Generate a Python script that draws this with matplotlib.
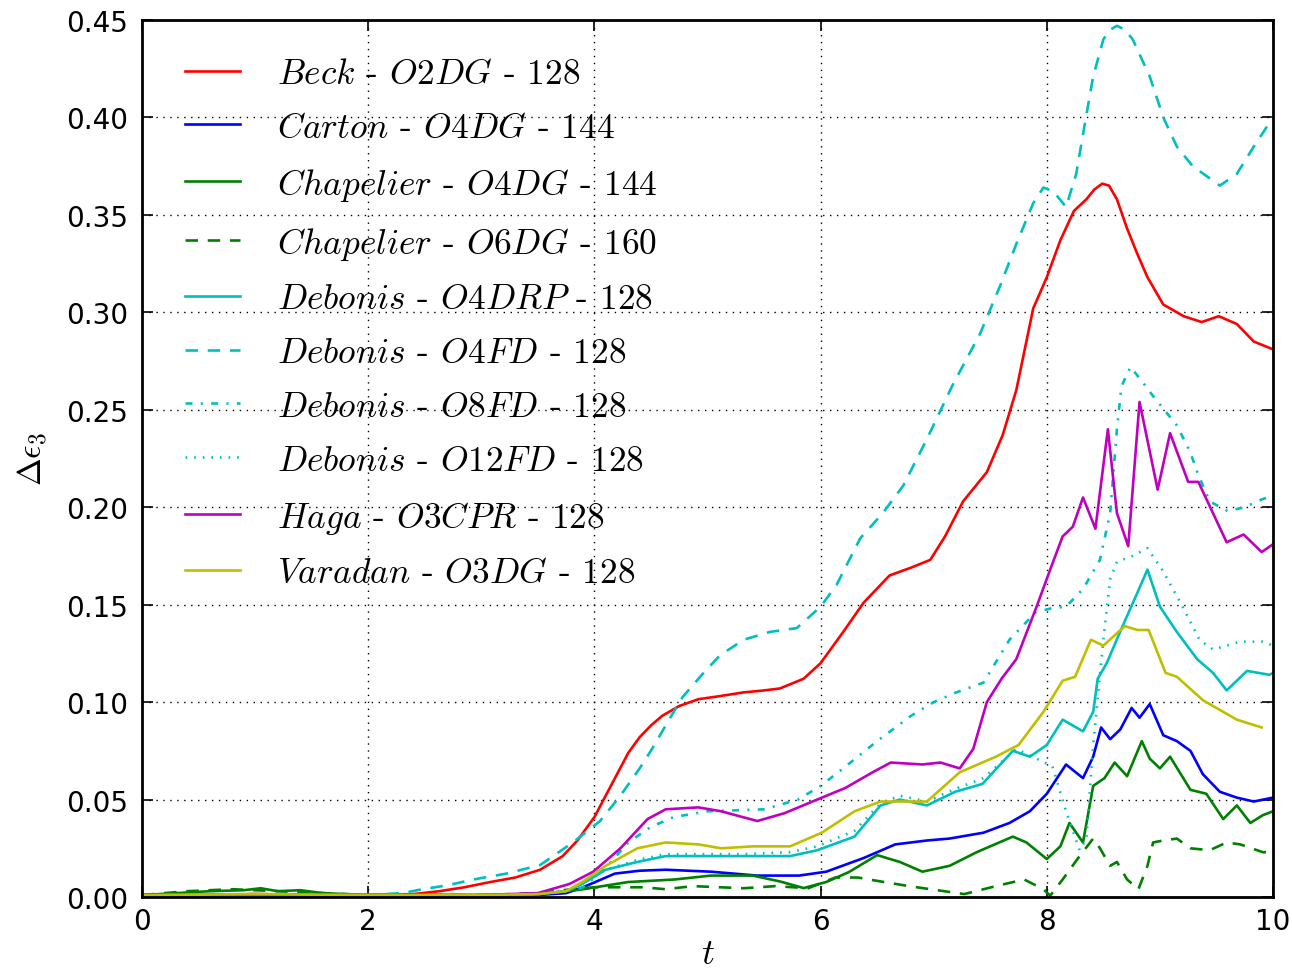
import matplotlib
matplotlib.use("Agg")
import matplotlib.pyplot as plt

plt.rcParams['mathtext.fontset'] = 'cm'
plt.rcParams['lines.scale_dashes'] = False

# ---------------- data ----------------
beck_t = [0, 0.5, 1.0, 1.5, 2.0, 2.4, 2.63, 2.85, 3.08, 3.3, 3.52, 3.72, 3.85, 4.0, 4.1, 4.2, 4.3,
          4.4, 4.5, 4.6, 4.75, 4.92, 5.1, 5.32, 5.5, 5.64, 5.85, 6.0, 6.2, 6.38, 6.61, 6.8, 6.97,
          7.1, 7.26, 7.47, 7.61, 7.73, 7.88, 8.0, 8.12, 8.24, 8.35, 8.42, 8.49, 8.55, 8.62, 8.71,
          8.8, 8.89, 9.03, 9.21, 9.37, 9.52, 9.68, 9.83, 10.0]
beck_v = [0.001, 0.001, 0.0015, 0.0012, 0.001, 0.0015, 0.003, 0.005, 0.0077, 0.010, 0.014, 0.021,
          0.029, 0.041, 0.052, 0.063, 0.074, 0.082, 0.088, 0.093, 0.098, 0.1015, 0.103, 0.105,
          0.106, 0.107, 0.112, 0.120, 0.136, 0.151, 0.165, 0.169, 0.173, 0.185, 0.203, 0.218,
          0.237, 0.260, 0.302, 0.318, 0.337, 0.352, 0.358, 0.363, 0.366, 0.365, 0.358, 0.343,
          0.330, 0.318, 0.304, 0.298, 0.295, 0.298, 0.294, 0.285, 0.281]

carton_t = [0, 0.5, 1.0, 1.5, 2.0, 2.5, 3.0, 3.5, 3.75, 3.9, 4.18, 4.4, 4.63, 5.03, 5.44, 5.81,
            6.05, 6.38, 6.66, 6.94, 7.14, 7.44, 7.67, 7.85, 8.0, 8.17, 8.32, 8.41, 8.48, 8.56,
            8.65, 8.75, 8.82, 8.91, 9.03, 9.15, 9.27, 9.38, 9.53, 9.68, 9.83, 10.0]
carton_v = [0.0005, 0.0008, 0.001, 0.0008, 0.0008, 0.0008, 0.0008, 0.001, 0.002, 0.005, 0.012,
            0.0135, 0.014, 0.013, 0.011, 0.011, 0.013, 0.020, 0.027, 0.029, 0.030, 0.033, 0.038,
            0.044, 0.053, 0.068, 0.061, 0.072, 0.087, 0.081, 0.086, 0.097, 0.092, 0.099, 0.083,
            0.080, 0.075, 0.063, 0.054, 0.051, 0.049, 0.051]

chap4_t = [0, 0.3, 0.6, 0.9, 1.05, 1.2, 1.4, 1.6, 2.0, 2.5, 3.0, 3.5, 3.75, 3.9, 4.3, 4.71, 5.03,
           5.4, 5.64, 5.85, 6.05, 6.25, 6.5, 6.7, 6.9, 7.14, 7.38, 7.7, 7.82, 8.0, 8.12, 8.2,
           8.32, 8.41, 8.51, 8.6, 8.71, 8.84, 8.91, 9.0, 9.09, 9.27, 9.41, 9.56, 9.68, 9.8,
           9.91, 10.0]
chap4_v = [0.001, 0.002, 0.003, 0.0035, 0.0045, 0.003, 0.0035, 0.002, 0.001, 0.001, 0.001, 0.0015,
           0.003, 0.004, 0.0077, 0.009, 0.011, 0.011, 0.008, 0.0046, 0.0077, 0.0128, 0.0215,
           0.018, 0.013, 0.016, 0.023, 0.031, 0.028, 0.0195, 0.026, 0.038, 0.028, 0.057, 0.061,
           0.069, 0.062, 0.080, 0.071, 0.066, 0.072, 0.055, 0.053, 0.040, 0.047, 0.038, 0.042,
           0.044]

chap6_t = [0, 0.4, 0.8, 1.2, 1.6, 2.0, 3.0, 3.5, 3.8, 4.0, 4.18, 4.43, 4.63, 4.87, 5.32, 5.6,
           5.89, 6.13, 6.33, 6.53, 6.78, 7.02, 7.27, 7.55, 7.8, 7.97, 8.03, 8.14, 8.29, 8.41,
           8.47, 8.56, 8.62, 8.71, 8.81, 8.89, 8.94, 9.03, 9.15, 9.27, 9.44, 9.59, 9.71, 9.91,
           10.0]
chap6_v = [0.001, 0.003, 0.004, 0.003, 0.002, 0.001, 0.001, 0.002, 0.004, 0.005, 0.005, 0.005,
           0.004, 0.0056, 0.0045, 0.0056, 0.0045, 0.010, 0.010, 0.008, 0.0056, 0.0036, 0.0015,
           0.0056, 0.009, 0.004, 0.0007, 0.009, 0.021, 0.030, 0.025, 0.016, 0.018, 0.009, 0.004,
           0.016, 0.028, 0.029, 0.030, 0.025, 0.024, 0.028, 0.027, 0.023, 0.023]

drp_t = [0, 0.5, 1.0, 1.5, 2.0, 2.5, 3.0, 3.5, 3.75, 3.9, 4.1, 4.38, 4.63, 4.92, 5.32, 5.73,
         5.97, 6.3, 6.53, 6.7, 6.94, 7.19, 7.43, 7.7, 7.85, 8.0, 8.14, 8.32, 8.41, 8.45, 8.53,
         8.67, 8.8, 8.89, 9.0, 9.15, 9.33, 9.47, 9.59, 9.77, 9.97, 10.0]
drp_v = [0.0008, 0.001, 0.0012, 0.001, 0.001, 0.001, 0.001, 0.0015, 0.003, 0.007, 0.014, 0.018,
         0.021, 0.021, 0.021, 0.021, 0.024, 0.031, 0.047, 0.050, 0.047, 0.054, 0.058, 0.075,
         0.072, 0.078, 0.091, 0.085, 0.095, 0.112, 0.120, 0.139, 0.156, 0.168, 0.149, 0.136,
         0.122, 0.115, 0.106, 0.116, 0.114, 0.115]

o4fd_t = [0, 0.5, 1, 1.5, 2, 2.3, 2.48, 2.7, 2.93, 3.22, 3.52, 3.81, 4.05, 4.23, 4.4, 4.51, 4.65,
          4.78, 4.95, 5.11, 5.32, 5.55, 5.79, 6.0, 6.14, 6.35, 6.55, 6.73, 6.94, 7.17, 7.41, 7.59,
          7.73, 7.88, 7.97, 8.06, 8.17, 8.26, 8.34, 8.41, 8.5, 8.56, 8.62, 8.69, 8.76, 8.91, 9.03,
          9.15, 9.29, 9.53, 9.68, 9.83, 10.0]
o4fd_v = [0.001, 0.001, 0.001, 0.001, 0.001, 0.002, 0.004, 0.006, 0.009, 0.012, 0.0164, 0.028,
          0.039, 0.052, 0.066, 0.076, 0.090, 0.1026, 0.114, 0.124, 0.132, 0.136, 0.138, 0.149,
          0.160, 0.184, 0.197, 0.211, 0.235, 0.263, 0.289, 0.314, 0.335, 0.356, 0.364, 0.362,
          0.354, 0.371, 0.398, 0.421, 0.440, 0.445, 0.447, 0.445, 0.440, 0.421, 0.400, 0.385,
          0.375, 0.365, 0.371, 0.385, 0.400]

o8fd_t = [0, 0.5, 1.0, 1.5, 2.0, 2.5, 3.0, 3.5, 3.75, 3.9, 4.1, 4.3, 4.5, 4.7, 5.0, 5.5, 5.8,
          6.0, 6.2, 6.5, 6.8, 7.0, 7.2, 7.44, 7.67, 7.9, 8.03, 8.17, 8.32, 8.47, 8.56, 8.62, 8.66,
          8.74, 8.85, 8.94, 9.15, 9.27, 9.33, 9.44, 9.6, 9.75, 9.9, 10.0]
o8fd_v = [0.001, 0.001, 0.001, 0.001, 0.001, 0.001, 0.001, 0.0015, 0.003, 0.005, 0.015, 0.028,
          0.036, 0.041, 0.044, 0.045, 0.050, 0.057, 0.066, 0.080, 0.093, 0.100, 0.105, 0.110,
          0.132, 0.146, 0.148, 0.149, 0.158, 0.173, 0.197, 0.240, 0.262, 0.272, 0.264, 0.257,
          0.242, 0.228, 0.218, 0.203, 0.198, 0.200, 0.204, 0.206]

o12fd_t = [0, 0.5, 1.0, 1.5, 2.0, 2.5, 3.0, 3.5, 3.75, 3.9, 4.1, 4.38, 4.63, 4.92, 5.32, 5.73,
           5.97, 6.3, 6.53, 6.7, 6.94, 7.17, 7.44, 7.73, 7.91, 8.05, 8.17, 8.29, 8.35, 8.41, 8.5,
           8.56, 8.62, 8.76, 8.89, 9.03, 9.2, 9.35, 9.47, 9.71, 9.91, 10.0]
o12fd_v = [0.0008, 0.001, 0.0012, 0.001, 0.001, 0.001, 0.001, 0.0015, 0.003, 0.007, 0.014, 0.019,
           0.022, 0.022, 0.022, 0.023, 0.026, 0.034, 0.048, 0.052, 0.049, 0.055, 0.061, 0.076,
           0.071, 0.067, 0.044, 0.024, 0.030, 0.078, 0.132, 0.163, 0.172, 0.175, 0.179, 0.167,
           0.149, 0.132, 0.127, 0.131, 0.131, 0.129]

haga_t = [0, 0.5, 1.0, 1.5, 2.0, 2.5, 3.0, 3.5, 3.78, 3.99, 4.23, 4.47, 4.63, 4.92, 5.12, 5.44,
          5.68, 5.97, 6.22, 6.46, 6.62, 6.9, 7.06, 7.23, 7.35, 7.47, 7.6, 7.73, 7.91, 8.03, 8.14,
          8.23, 8.32, 8.43, 8.54, 8.62, 8.72, 8.82, 8.98, 9.09, 9.25, 9.34, 9.59, 9.74, 9.9,
          10.0]
haga_v = [0.001, 0.001, 0.0015, 0.001, 0.001, 0.001, 0.001, 0.002, 0.0067, 0.013, 0.025, 0.040,
          0.045, 0.046, 0.044, 0.039, 0.043, 0.050, 0.056, 0.064, 0.069, 0.068, 0.069, 0.066,
          0.076, 0.100, 0.112, 0.122, 0.149, 0.168, 0.185, 0.190, 0.205, 0.189, 0.240, 0.197,
          0.180, 0.254, 0.209, 0.238, 0.213, 0.213, 0.182, 0.186, 0.177, 0.181]

varadan_t = [0, 0.5, 1.0, 1.5, 2.0, 2.5, 3.0, 3.5, 3.75, 3.9, 4.1, 4.38, 4.63, 4.92, 5.12, 5.4,
             5.73, 5.89, 6.01, 6.3, 6.53, 6.78, 6.94, 7.23, 7.55, 7.75, 7.97, 8.14, 8.25, 8.39,
             8.5, 8.69, 8.8, 8.9, 9.05, 9.15, 9.38, 9.68, 9.9]
varadan_v = [0.001, 0.0012, 0.0015, 0.0012, 0.001, 0.001, 0.001, 0.0015, 0.003, 0.008, 0.016,
             0.025, 0.028, 0.027, 0.025, 0.026, 0.026, 0.030, 0.033, 0.044, 0.049, 0.049, 0.049,
             0.064, 0.072, 0.078, 0.095, 0.111, 0.113, 0.132, 0.129, 0.139, 0.137, 0.137, 0.115,
             0.113, 0.101, 0.091, 0.087]

labels = [r'$Beck$ - $O2DG$ - 128',
          r'$Carton$ - $O4DG$ - 144',
          r'$Chapelier$ - $O4DG$ - 144',
          r'$Chapelier$ - $O6DG$ - 160',
          r'$Debonis$ - $O4DRP$ - 128',
          r'$Debonis$ - $O4FD$ - 128',
          r'$Debonis$ - $O8FD$ - 128',
          r'$Debonis$ - $O12FD$ - 128',
          r'$Haga$ - $O3CPR$ - 128',
          r'$Varadan$ - $O3DG$ - 128']

series = [(beck_t, beck_v), (carton_t, carton_v), (chap4_t, chap4_v), (chap6_t, chap6_v),
          (drp_t, drp_v), (o4fd_t, o4fd_v), (o8fd_t, o8fd_v), (o12fd_t, o12fd_v),
          (haga_t, haga_v), (varadan_t, varadan_v)]

colors = ['#ff0000', '#0000ff', '#008000', '#008000', '#00bfbf', '#00bfbf', '#00bfbf',
          '#00bfbf', '#bf00bf', '#bfbf00']
styles = [None, None, None, (0, (9, 7)), None, (0, (9, 7)), (0, (5, 6, 1.5, 6)),
          (0, (1.2, 5)), None, None]

# ---------------- figure ----------------
fig = plt.figure(figsize=(12.92, 9.70), dpi=100)
ax = fig.add_axes([0.1099, 0.0742, 0.8754, 0.9042])

for (t, v), lab, c, ls in zip(series, labels, colors, styles):
    kw = dict(color=c, lw=1.9, label=lab)
    if ls is None:
        ax.plot(t, v, '-', **kw)
    else:
        ax.plot(t, v, linestyle=ls, **kw)

ax.set_xlim(0, 10)
ax.set_ylim(0, 0.45)
ax.set_xticks([0, 2, 4, 6, 8, 10])
ax.set_yticks([0.0, 0.05, 0.10, 0.15, 0.20, 0.25, 0.30, 0.35, 0.40, 0.45])
ax.set_yticklabels(['%.2f' % y for y in ax.get_yticks()])
ax.grid(True, color='k', linestyle=(0, (1, 4)), linewidth=1.0)
ax.tick_params(direction='in', length=8, width=1.2, top=True, right=True, labelsize=20)
ax.tick_params(axis='y', pad=10)
ax.tick_params(axis='x', pad=7)
for s in ax.spines.values():
    s.set_linewidth(2.0)

ax.set_xlabel(r'$t$', fontsize=26, labelpad=1)
ax.set_ylabel(r'$\Delta\epsilon_3$', fontsize=24, labelpad=12)

leg = ax.legend(loc='upper left', bbox_to_anchor=(0.0224, 0.9766), frameon=False,
                prop={'family': 'cmr10', 'size': 25.5},
                handlelength=1.55, handletextpad=1.05, labelspacing=0.62,
                borderaxespad=0.0, borderpad=0.5)

fig.savefig('out.png', dpi=100, facecolor='white')
